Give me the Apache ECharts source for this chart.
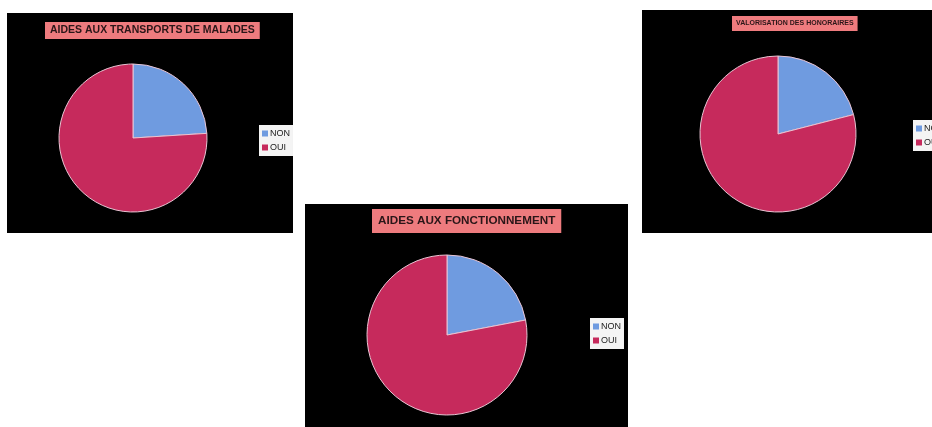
<!DOCTYPE html>
<html>
<head>
<meta charset="utf-8">
<script src="https://cdn.jsdelivr.net/npm/echarts@6/dist/echarts.min.js"></script>
<style>
  html, body { margin: 0; padding: 0; background: #fff; width: 932px; height: 427px; overflow: hidden; position: relative; }
  .panel { position: absolute; background: #000; }
  #chart1 { left: 7px; top: 13px; width: 286px; height: 220px; }
  #chart2 { left: 305px; top: 204px; width: 323px; height: 240px; }
  #chart3 { left: 642px; top: 10px; width: 300px; height: 223px; }
</style>
</head>
<body>
<div id="chart1" class="panel"></div>
<div id="chart2" class="panel"></div>
<div id="chart3" class="panel"></div>
<script>
// categories & values (percent)
var categories = ['NON', 'OUI']
var transportsValues = [24, 76]
var fonctionnementValues = [22, 78]
var honorairesValues = [21, 79]
var titles = [
  'AIDES AUX TRANSPORTS DE MALADES',
  'AIDES AUX FONCTIONNEMENT',
  'VALORISATION DES HONORAIRES'
]
var colors = ['#6f9be0', '#c62a5c']

function makeOption(title, values, cfg) {
  return {
    animation: false,
    color: colors,
    title: {
      text: title,
      left: cfg.titleLeft,
      top: cfg.titleTop,
      backgroundColor: '#ee7b7e',
      padding: cfg.titlePad,
      textStyle: {
        fontFamily: 'Liberation Sans',
        fontSize: cfg.titleSize,
        fontWeight: 'bold',
        color: '#2a1618'
      }
    },
    legend: {
      orient: 'vertical',
      left: cfg.legendLeft,
      top: cfg.legendTop,
      backgroundColor: '#f4f4f4',
      padding: [4, 3, 4, 3],
      itemWidth: 6,
      itemHeight: 6,
      itemGap: 5,
      icon: 'rect',
      itemStyle: { borderWidth: 0 },
      textStyle: { fontFamily: 'Liberation Sans', fontSize: 9, color: '#222', padding: [0, 0, 0, -3] },
      data: categories
    },
    series: [
      {
        type: 'pie',
        center: cfg.center,
        radius: cfg.radius,
        startAngle: 90,
        label: { show: false },
        labelLine: { show: false },
        silent: true,
        itemStyle: { borderColor: '#e9c4d3', borderWidth: 1 },
        data: categories.map(function(name, i) {
          return { name: name, value: values[i] }
        })
      }
    ]
  }
}

var c1 = echarts.init(document.getElementById('chart1'))
c1.setOption(makeOption(titles[0], transportsValues, {
  titleLeft: 38, titleTop: 9, titlePad: [3, 5], titleSize: 10.5,
  legendLeft: 252, legendTop: 112,
  center: [126, 125], radius: 74
}))

var c2 = echarts.init(document.getElementById('chart2'))
c2.setOption(makeOption(titles[1], fonctionnementValues, {
  titleLeft: 67, titleTop: 5, titlePad: [6, 6], titleSize: 11.7,
  legendLeft: 285, legendTop: 114,
  center: [142, 131], radius: 80
}))

var c3 = echarts.init(document.getElementById('chart3'))
c3.setOption(makeOption(titles[2], honorairesValues, {
  titleLeft: 90, titleTop: 6, titlePad: [4, 4], titleSize: 7,
  legendLeft: 271, legendTop: 110,
  center: [136, 124], radius: 78
}))
</script>
</body>
</html>
